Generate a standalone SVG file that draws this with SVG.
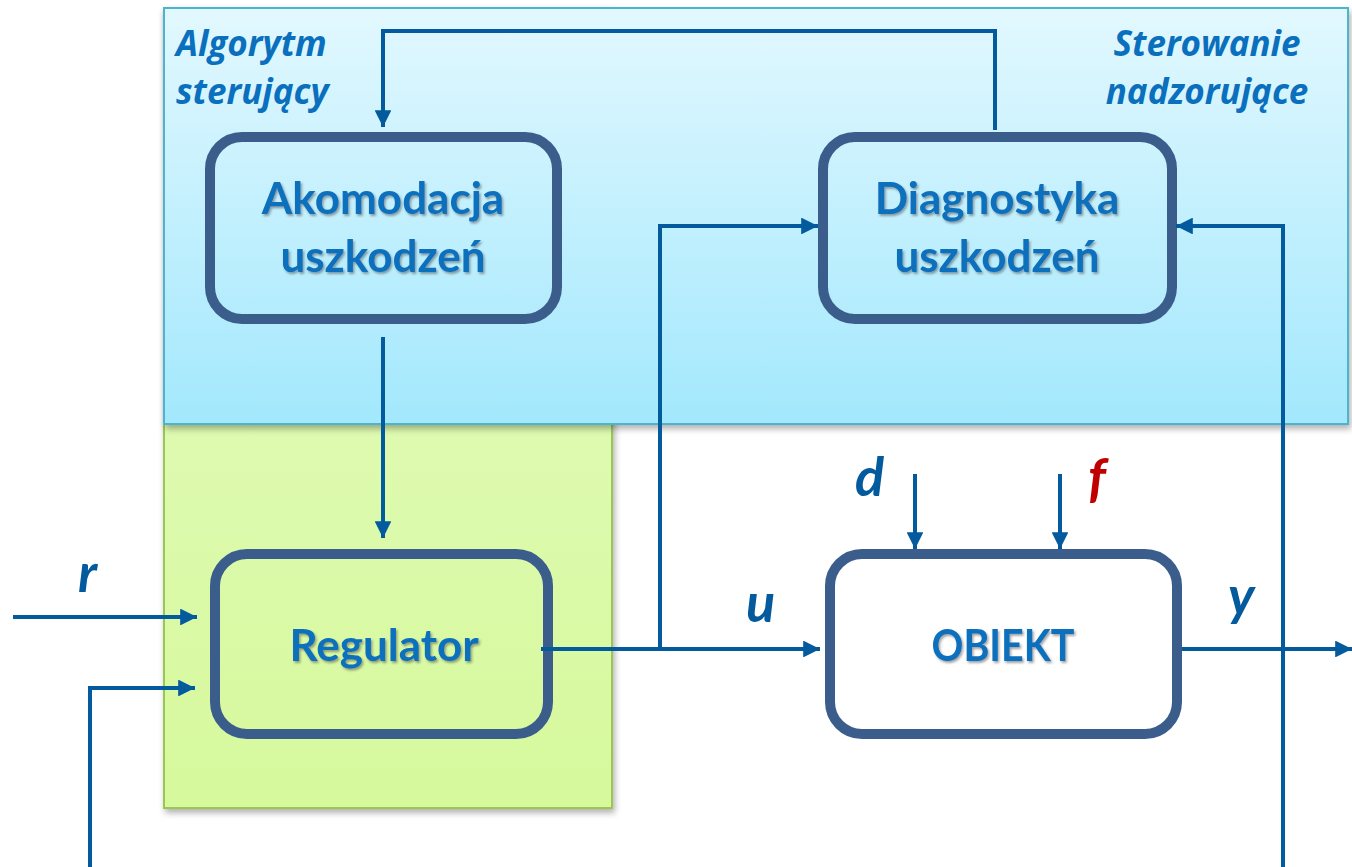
<svg xmlns="http://www.w3.org/2000/svg" width="1352" height="867" viewBox="0 0 1352 867">
<defs>
<linearGradient id="gBlue" x1="0" y1="0" x2="0" y2="1">
<stop offset="0" stop-color="#e2f8fe"/>
<stop offset="1" stop-color="#a3e8fd"/>
</linearGradient>
<linearGradient id="gGreen" x1="0" y1="0" x2="0" y2="1">
<stop offset="0" stop-color="#e6fbc6"/>
<stop offset="1" stop-color="#d6f99c"/>
</linearGradient>
<filter id="panelShadow" x="-5%" y="-5%" width="110%" height="115%">
<feDropShadow dx="2" dy="4" stdDeviation="3" flood-color="#000" flood-opacity="0.3"/>
</filter>
<filter id="txtShadow" x="-10%" y="-20%" width="120%" height="150%">
<feDropShadow dx="1.5" dy="2" stdDeviation="1.2" flood-color="#333" flood-opacity="0.45"/>
</filter>
<marker id="arr" viewBox="0 0 10 10" refX="10" refY="5" markerWidth="4.2" markerHeight="4.2" markerUnits="strokeWidth" orient="auto">
<path d="M0,0 L10,5 L0,10 z" fill="#035a9c"/>
</marker>
<style>
.panelB{fill:url(#gBlue);stroke:#4db4cf;stroke-width:2}
.panelG{fill:url(#gGreen);stroke:#9cc653;stroke-width:2}
.box{stroke:#3a5d8b;stroke-width:10}
.ntext{font-family:Lato,"Open Sans",sans-serif;font-weight:bold;font-size:44px;fill:#0a6fbd;text-anchor:middle}
.lbl{font-family:"Open Sans",Lato,sans-serif;font-weight:bold;font-style:italic;font-size:35px;fill:#0a6fbd}
.sig{font-family:Lato,"Open Sans",sans-serif;font-weight:bold;font-style:italic;font-size:54px;fill:#035a9c}
.wire{fill:none;stroke:#035a9c;stroke-width:4}
</style>
</defs>
<g id="panel-green">
<rect class="panelG" x="164" y="8" width="448" height="800" filter="url(#panelShadow)"/>
</g>
<g id="panel-blue">
<rect class="panelB" x="164" y="8" width="1184" height="416" filter="url(#panelShadow)"/>
<text class="lbl" x="176" y="56">Algorytm</text>
<text class="lbl" x="176" y="104">sterujący</text>
<text class="lbl" x="1207" y="56" text-anchor="middle">Sterowanie</text>
<text class="lbl" x="1207" y="104" text-anchor="middle">nadzorujące</text>
</g>
<g id="node-akomodacja">
<rect class="box" x="210" y="137" width="347" height="182" rx="32" fill="none"/>
<text class="ntext" x="383" y="214" filter="url(#txtShadow)">Akomodacja</text>
<text class="ntext" x="383" y="272" filter="url(#txtShadow)">uszkodzeń</text>
</g>
<g id="node-diagnostyka">
<rect class="box" x="823" y="137" width="349" height="182" rx="32" fill="none"/>
<text class="ntext" x="997" y="214" filter="url(#txtShadow)">Diagnostyka</text>
<text class="ntext" x="997" y="272" filter="url(#txtShadow)">uszkodzeń</text>
</g>
<g id="node-regulator">
<rect class="box" x="215" y="554" width="333" height="180" rx="32" fill="none"/>
<text class="ntext" x="384" y="661" filter="url(#txtShadow)">Regulator</text>
</g>
<g id="node-obiekt">
<rect class="box" x="830" y="554" width="347" height="180" rx="32" fill="#fff"/>
<text class="ntext" x="1003" y="661" textLength="143" lengthAdjust="spacingAndGlyphs" filter="url(#txtShadow)">OBIEKT</text>
</g>
<g id="connectors">
<path class="wire" d="M995,130 V31 H383 V127" marker-end="url(#arr)"/>
<path class="wire" d="M383,337 V538" marker-end="url(#arr)"/>
<path class="wire" d="M541,649 H820" marker-end="url(#arr)"/>
<path class="wire" d="M660,649 V226 H818" marker-end="url(#arr)"/>
<path class="wire" d="M13,617 H197" marker-end="url(#arr)"/>
<path class="wire" d="M90,867 V688 H195" marker-end="url(#arr)"/>
<path class="wire" d="M1182,649 H1352" marker-end="url(#arr)"/>
<path class="wire" d="M1283,867 V226 H1176" marker-end="url(#arr)"/>
<path class="wire" d="M915,474 V549" marker-end="url(#arr)"/>
<path class="wire" d="M1060,474 V549" marker-end="url(#arr)"/>
</g>
<g id="signals">
<text class="sig" x="78" y="592">r</text>
<text class="sig" x="746" y="622">u</text>
<text class="sig" x="855" y="496">d</text>
<text class="sig" x="1088" y="497" style="fill:#c00000">f</text>
<text class="sig" x="1228" y="615">y</text>
</g>
</svg>
